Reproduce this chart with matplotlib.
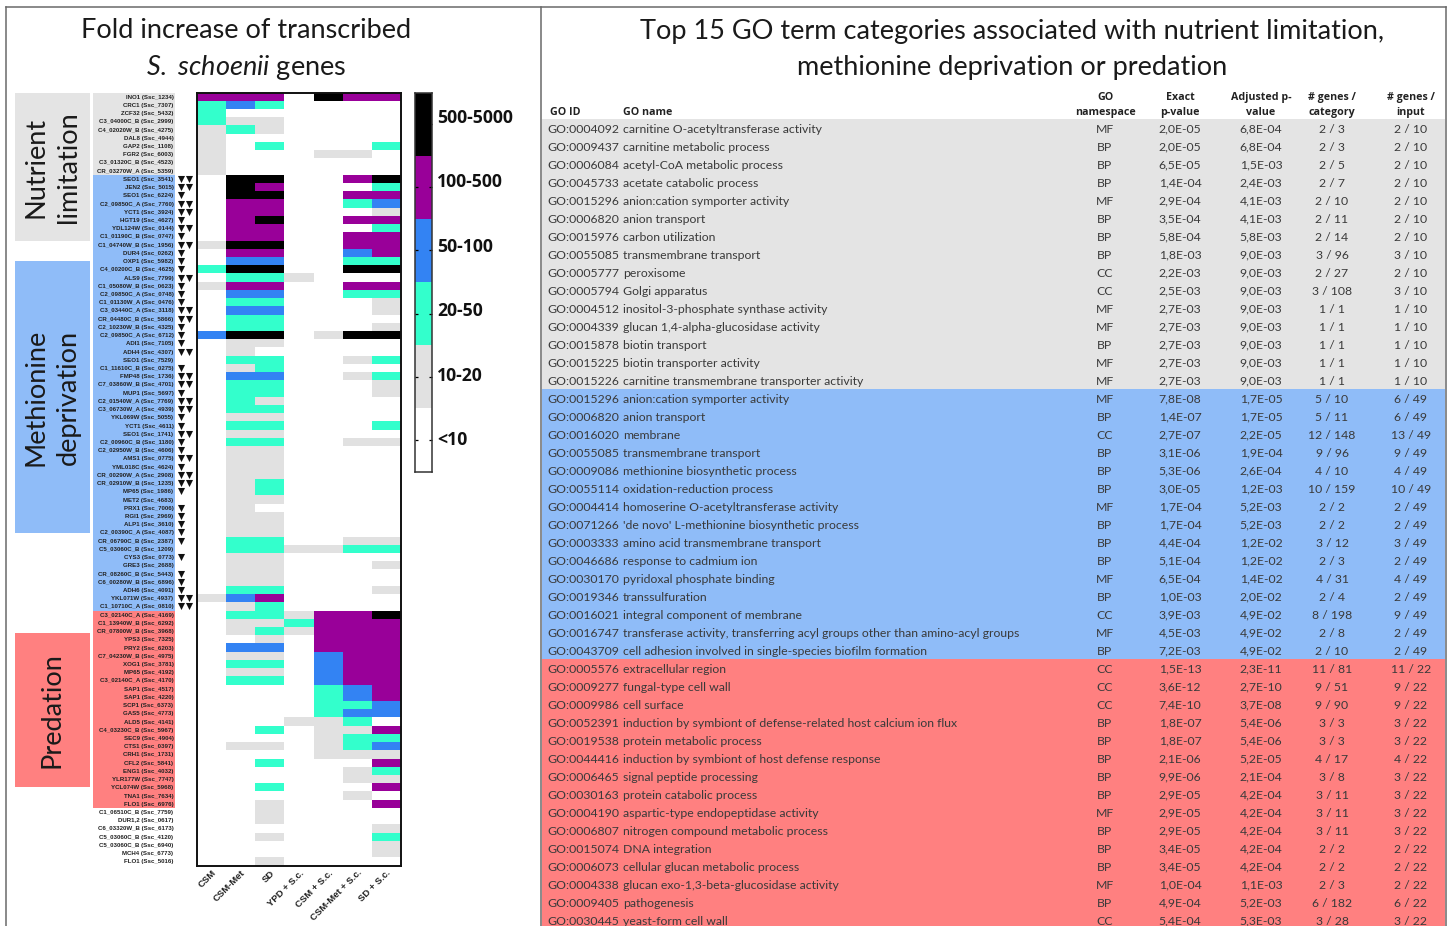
import matplotlib
matplotlib.use("Agg")
import matplotlib.pyplot as plt
import numpy as np
from matplotlib.colors import ListedColormap, BoundaryNorm
from matplotlib.patches import Rectangle
from matplotlib.lines import Line2D
from matplotlib.transforms import ScaledTranslation

plt.rcParams['font.family'] = ['Lato', 'DejaVu Sans']
plt.rcParams['mathtext.fontset'] = 'custom'
plt.rcParams['mathtext.it'] = 'Lato:italic'
plt.rcParams['mathtext.rm'] = 'Lato'

W, H = 1449, 926

conditions = ["CSM", "CSM-Met", "SD", "YPD + S.c.", "CSM + S.c.", "CSM-Met + S.c.", "SD + S.c."]
bin_labels = ["<10", "10-20", "20-50", "50-100", "100-500", "500-5000"]
bin_colors = ["#ffffff", "#e1e1e1", "#33ffcc", "#3383f3", "#990099", "#000000"]

genes_nutrient = ["INO1 (Ssc_1234)", "CRC1 (Ssc_7307)", "ZCF32 (Ssc_5432)", "C3_04000C_B (Ssc_2999)",
    "C4_02020W_B (Ssc_4275)", "DAL8 (Ssc_4944)", "GAP2 (Ssc_1108)", "FGR2 (Ssc_6003)",
    "C3_01320C_B (Ssc_4523)", "CR_03270W_A (Ssc_5359)"]
genes_methionine = ["SEO1 (Ssc_3541)", "JEN2 (Ssc_5015)", "SEO1 (Ssc_6224)", "C2_09850C_A (Ssc_7760)",
    "YCT1 (Ssc_3924)", "HGT19 (Ssc_4627)", "YDL124W (Ssc_0144)", "C1_01190C_B (Ssc_0747)",
    "C1_04740W_B (Ssc_1956)", "DUR4 (Ssc_0262)", "OXP1 (Ssc_5982)", "C4_00200C_B (Ssc_4625)",
    "ALS9 (Ssc_7799)", "C1_05080W_B (Ssc_0623)", "C2_09850C_A (Ssc_0748)", "C1_01130W_A (Ssc_0476)",
    "C3_03440C_A (Ssc_3118)", "CR_04480C_B (Ssc_5866)", "C2_10230W_B (Ssc_4325)", "C2_09850C_A (Ssc_6712)",
    "ADI1 (Ssc_7105)", "ADH4 (Ssc_4307)", "SEO1 (Ssc_7529)", "C1_11610C_B (Ssc_0275)",
    "FMP48 (Ssc_1736)", "C7_03860W_B (Ssc_4701)", "MUP1 (Ssc_5697)", "C2_01540W_A (Ssc_7769)",
    "C3_06730W_A (Ssc_4939)", "YKL069W (Ssc_5055)", "YCT1 (Ssc_4611)", "SEO1 (Ssc_1741)",
    "C2_00960C_B (Ssc_1180)", "C2_02950W_B (Ssc_4606)", "AMS1 (Ssc_0775)", "YML018C (Ssc_4624)",
    "CR_00290W_A (Ssc_2908)", "CR_02910W_B (Ssc_1235)", "MP65 (Ssc_1986)", "MET2 (Ssc_4683)",
    "PRX1 (Ssc_7006)", "RGI1 (Ssc_2969)", "ALP1 (Ssc_3610)", "C2_00390C_A (Ssc_4087)",
    "CR_06790C_B (Ssc_2387)", "C5_03060C_B (Ssc_1209)", "CYS3 (Ssc_0773)", "GRE3 (Ssc_2688)",
    "CR_08260C_B (Ssc_5443)", "C6_00280W_B (Ssc_6896)", "ADH6 (Ssc_4091)", "YKL071W (Ssc_4937)",
    "C1_10710C_A (Ssc_0810)"]
genes_predation = ["C3_02140C_A (Ssc_4169)", "C1_13940W_B (Ssc_6292)", "CR_07800W_B (Ssc_3968)",
    "YPS3 (Ssc_7325)", "PRY2 (Ssc_6203)", "C7_04230W_B (Ssc_4975)", "XOG1 (Ssc_3781)", "MP65 (Ssc_4192)",
    "C3_02140C_A (Ssc_4170)", "SAP1 (Ssc_4517)", "SAP1 (Ssc_4220)", "SCP1 (Ssc_6373)", "GAS5 (Ssc_4773)",
    "ALD5 (Ssc_4141)", "C4_03230C_B (Ssc_5967)", "SEC9 (Ssc_4904)", "CTS1 (Ssc_0397)", "CRH1 (Ssc_1731)",
    "CFL2 (Ssc_5841)", "ENG1 (Ssc_4032)", "YLR177W (Ssc_7747)", "YCL074W (Ssc_5968)", "TNA1 (Ssc_7634)",
    "FLO1 (Ssc_6976)"]
genes_other = ["C1_06510C_B (Ssc_7759)", "DUR1,2 (Ssc_0617)", "C6_03320W_B (Ssc_6173)",
    "C5_03060C_B (Ssc_4120)", "C5_03060C_B (Ssc_6940)", "MCH4 (Ssc_6773)", "FLO1 (Ssc_5016)"]

bins_nutrient = ["4440544", "2320000", "2000000", "2110000", "1210000", "1000000", "1020002", "1000110",
                 "1000000", "1000000"]
bins_methionine = ["0550045", "0540002", "0550044", "0440023", "0440001", "0450044", "0440002", "0440044",
    "1550044", "0440034", "0330022", "2550055", "0221000", "1440044", "0330022", "0220001", "0330001",
    "0220000", "0220001", "3550155", "0110000", "0100000", "0220012", "0120000", "0330012", "0220001",
    "0220001", "0210000", "0220000", "0110000", "0220002", "0110000", "0220011", "0110000", "0110000",
    "0110000", "0110000", "0120000", "0120000", "0110000", "0100000", "0110000", "0110000", "0110000",
    "0220011", "0221122", "0110000", "0110001", "0110000", "0110000", "0220001", "1340000", "0120000"]
bins_predation = ["0221445", "0112444", "0121444", "0010444", "0330444", "0110344", "0220344", "0110344",
    "0220344", "0000234", "0000234", "0000223", "0000233", "0001120", "0020114", "0000122", "0110123",
    "0000111", "0020004", "0000012", "0000011", "0020004", "0000010", "0010004"]
bins_other = ["0010000", "0010000", "0000001", "0010002", "0000001", "0000001", "0010000"]

triangles_methionine = [2, 2, 1, 2, 2, 1, 2, 1, 2, 1, 1, 1, 2, 1, 1, 1, 2, 2, 1, 1, 1, 2, 0, 1, 2, 2, 1, 2, 2,
                        1, 1, 2, 1, 1, 2, 1, 2, 2, 1, 0, 1, 1, 1, 1, 1, 0, 1, 0, 1, 1, 1, 2, 2]

go_id_nutrient = ["GO:0004092", "GO:0009437", "GO:0006084", "GO:0045733", "GO:0015296", "GO:0006820", "GO:0015976",
    "GO:0055085", "GO:0005777", "GO:0005794", "GO:0004512", "GO:0004339", "GO:0015878", "GO:0015225", "GO:0015226"]
go_name_nutrient = ["carnitine O-acetyltransferase activity", "carnitine metabolic process", "acetyl-CoA metabolic process",
    "acetate catabolic process", "anion:cation symporter activity", "anion transport", "carbon utilization",
    "transmembrane transport", "peroxisome", "Golgi apparatus", "inositol-3-phosphate synthase activity",
    "glucan 1,4-alpha-glucosidase activity", "biotin transport", "biotin transporter activity",
    "carnitine transmembrane transporter activity"]
go_ns_nutrient = ["MF", "BP", "BP", "BP", "MF", "BP", "BP", "BP", "CC", "CC", "MF", "MF", "BP", "MF", "MF"]
go_p_nutrient = ["2,0E-05", "2,0E-05", "6,5E-05", "1,4E-04", "2,9E-04", "3,5E-04", "5,8E-04", "1,8E-03", "2,2E-03",
    "2,5E-03", "2,7E-03", "2,7E-03", "2,7E-03", "2,7E-03", "2,7E-03"]
go_adj_nutrient = ["6,8E-04", "6,8E-04", "1,5E-03", "2,4E-03", "4,1E-03", "4,1E-03", "5,8E-03", "9,0E-03", "9,0E-03",
    "9,0E-03", "9,0E-03", "9,0E-03", "9,0E-03", "9,0E-03", "9,0E-03"]
go_cat_nutrient = ["2 / 3", "2 / 3", "2 / 5", "2 / 7", "2 / 10", "2 / 11", "2 / 14", "3 / 96", "2 / 27", "3 / 108",
    "1 / 1", "1 / 1", "1 / 1", "1 / 1", "1 / 1"]
go_in_nutrient = ["2 / 10", "2 / 10", "2 / 10", "2 / 10", "2 / 10", "2 / 10", "2 / 10", "3 / 10", "2 / 10", "3 / 10",
    "1 / 10", "1 / 10", "1 / 10", "1 / 10", "1 / 10"]

go_id_methionine = ["GO:0015296", "GO:0006820", "GO:0016020", "GO:0055085", "GO:0009086", "GO:0055114", "GO:0004414",
    "GO:0071266", "GO:0003333", "GO:0046686", "GO:0030170", "GO:0019346", "GO:0016021", "GO:0016747", "GO:0043709"]
go_name_methionine = ["anion:cation symporter activity", "anion transport", "membrane", "transmembrane transport",
    "methionine biosynthetic process", "oxidation-reduction process", "homoserine O-acetyltransferase activity",
    "'de novo' L-methionine biosynthetic process", "amino acid transmembrane transport", "response to cadmium ion",
    "pyridoxal phosphate binding", "transsulfuration", "integral component of membrane",
    "transferase activity, transferring acyl groups other than amino-acyl groups",
    "cell adhesion involved in single-species biofilm formation"]
go_ns_methionine = ["MF", "BP", "CC", "BP", "BP", "BP", "MF", "BP", "BP", "BP", "MF", "BP", "CC", "MF", "BP"]
go_p_methionine = ["7,8E-08", "1,4E-07", "2,7E-07", "3,1E-06", "5,3E-06", "3,0E-05", "1,7E-04", "1,7E-04", "4,4E-04",
    "5,1E-04", "6,5E-04", "1,0E-03", "3,9E-03", "4,5E-03", "7,2E-03"]
go_adj_methionine = ["1,7E-05", "1,7E-05", "2,2E-05", "1,9E-04", "2,6E-04", "1,2E-03", "5,2E-03", "5,2E-03", "1,2E-02",
    "1,2E-02", "1,4E-02", "2,0E-02", "4,9E-02", "4,9E-02", "4,9E-02"]
go_cat_methionine = ["5 / 10", "5 / 11", "12 / 148", "9 / 96", "4 / 10", "10 / 159", "2 / 2", "2 / 2", "3 / 12", "2 / 3",
    "4 / 31", "2 / 4", "8 / 198", "2 / 8", "2 / 10"]
go_in_methionine = ["6 / 49", "6 / 49", "13 / 49", "9 / 49", "4 / 49", "10 / 49", "2 / 49", "2 / 49", "3 / 49", "2 / 49",
    "4 / 49", "2 / 49", "9 / 49", "2 / 49", "2 / 49"]

go_id_predation = ["GO:0005576", "GO:0009277", "GO:0009986", "GO:0052391", "GO:0019538", "GO:0044416", "GO:0006465",
    "GO:0030163", "GO:0004190", "GO:0006807", "GO:0015074", "GO:0006073", "GO:0004338", "GO:0009405", "GO:0030445"]
go_name_predation = ["extracellular region", "fungal-type cell wall", "cell surface",
    "induction by symbiont of defense-related host calcium ion flux", "protein metabolic process",
    "induction by symbiont of host defense response", "signal peptide processing", "protein catabolic process",
    "aspartic-type endopeptidase activity", "nitrogen compound metabolic process", "DNA integration",
    "cellular glucan metabolic process", "glucan exo-1,3-beta-glucosidase activity", "pathogenesis", "yeast-form cell wall"]
go_ns_predation = ["CC", "CC", "CC", "BP", "BP", "BP", "BP", "BP", "MF", "BP", "BP", "BP", "MF", "BP", "CC"]
go_p_predation = ["1,5E-13", "3,6E-12", "7,4E-10", "1,8E-07", "1,8E-07", "2,1E-06", "9,9E-06", "2,9E-05", "2,9E-05",
    "2,9E-05", "3,4E-05", "3,4E-05", "1,0E-04", "4,9E-04", "5,4E-04"]
go_adj_predation = ["2,3E-11", "2,7E-10", "3,7E-08", "5,4E-06", "5,4E-06", "5,2E-05", "2,1E-04", "4,2E-04", "4,2E-04",
    "4,2E-04", "4,2E-04", "4,2E-04", "1,1E-03", "5,2E-03", "5,3E-03"]
go_cat_predation = ["11 / 81", "9 / 51", "9 / 90", "3 / 3", "3 / 3", "4 / 17", "3 / 8", "3 / 11", "3 / 11", "3 / 11",
    "2 / 2", "2 / 2", "2 / 3", "6 / 182", "3 / 28"]
go_in_predation = ["11 / 22", "9 / 22", "9 / 22", "3 / 22", "3 / 22", "4 / 22", "3 / 22", "3 / 22", "3 / 22", "3 / 22",
    "2 / 22", "2 / 22", "2 / 22", "6 / 22", "3 / 22"]

table_headers = ["GO ID", "GO name", "GO\nnamespace", "Exact\np-value", "Adjusted p-\nvalue", "# genes /\ncategory", "# genes /\ninput"]

GREY, BLUE, RED = "#e4e4e4", "#8fbcf8", "#ff8080"
TXT = "#3a3a3a"
SANS = ['Liberation Sans', 'DejaVu Sans']
BOLD = ['Open Sans', 'DejaVu Sans']


def rect(l, t, r, b):
    return [l / W, 1 - b / H, (r - l) / W, (b - t) / H]


fig = plt.figure(figsize=(W / 100, H / 100), dpi=100, facecolor="white")

# frame lines
for x0, y0, x1, y1 in [(6.5, 7, 1445.5, 7), (6.5, 7, 6.5, 926), (541, 7, 541, 926), (1445.5, 7, 1445.5, 926)]:
    fig.add_artist(Line2D([x0 / W, x1 / W], [1 - y0 / H, 1 - y1 / H], color="#6a6a6a", lw=1.1))

# titles
tkw = dict(ha="center", va="center", fontsize=19.5, color="#1a1a1a")
fig.text(246.5 / W, 1 - 31 / H, "Fold increase of transcribed", **tkw)
fig.text(246.5 / W, 1 - 67 / H, r"$\mathit{S.\ schoenii}$ genes", **tkw)
fig.text(1012 / W, 1 - 32 / H, "Top 15 GO term categories associated with nutrient limitation,", **tkw)
fig.text(1012 / W, 1 - 67 / H, "methionine deprivation or predation", **tkw)

# side blocks
for (t, b, c, s) in [(93, 241, GREY, "Nutrient\nlimitation"), (261, 533, BLUE, "Methionine\ndeprivation"),
                     (633, 787, RED, "Predation")]:
    fig.add_artist(Rectangle((15.5 / W, 1 - b / H), 74 / W, (b - t) / H, transform=fig.transFigure,
                             facecolor=c, edgecolor="none"))
    fig.text(52.5 / W, 1 - (t + b) / 2 / H, s, rotation=90, ha="center", va="center", fontsize=19.5,
             color="#1a1a1a", linespacing=1.35, multialignment="center")

# heat map
genes = genes_nutrient + genes_methionine + genes_predation + genes_other
rows = bins_nutrient + bins_methionine + bins_predation + bins_other
matrix = np.array([[int(ch) for ch in r] for r in rows])
n_rows = len(genes)
cmap = ListedColormap(bin_colors)
norm = BoundaryNorm(np.arange(-0.5, 6.5), 6)

ax = fig.add_axes(rect(197, 92.5, 401, 865.5))
ax.pcolormesh(np.arange(8), np.arange(n_rows + 1), matrix, cmap=cmap, norm=norm)
ax.set_xlim(0, 7)
ax.set_ylim(n_rows, 0)
for s in ax.spines.values():
    s.set_linewidth(1.4)
    s.set_color("#111111")
ax.set_xticks(np.arange(7) + 0.5)
ax.set_xticklabels(conditions, rotation=45, ha="right", va="top", rotation_mode="anchor",
                   family=SANS, fontweight="bold", fontsize=6.8, color="#222222")
ax.tick_params(axis="x", length=0, pad=2)
ax.set_yticks(np.arange(n_rows) + 0.5)
ax.set_yticklabels(genes, family=SANS, fontweight="bold", fontsize=4.4, color="#222222")
ax.tick_params(axis="y", length=0, pad=17)

col_px = 204 / 7
label_l, label_r = (93 - 197) / col_px, (174.5 - 197) / col_px
start = 0
for group, c in [(genes_nutrient, GREY), (genes_methionine, BLUE), (genes_predation, RED)]:
    ax.add_patch(Rectangle((label_l, start), label_r - label_l, len(group), facecolor=c, edgecolor="none",
                           clip_on=False, zorder=0))
    start += len(group)

# down-pointing triangles beside the methionine group
first = len(genes_nutrient)
for i, n in enumerate(triangles_methionine):
    y = first + i + 0.5
    xs = [(180.7 - 197) / col_px, (189.2 - 197) / col_px][:n]
    if xs:
        ax.scatter(xs, [y] * n, marker="v", s=26, color="#111111", linewidths=0, clip_on=False, zorder=3)

# colour key
cax = fig.add_axes(rect(415, 92.5, 431.5, 471.5))
cax.pcolormesh([0, 1], np.arange(7), np.arange(6)[:, None], cmap=cmap, norm=norm)
cax.set_xticks([])
cax.set_ylim(0, 6)
cax.set_yticks(np.arange(6) + 0.5)
cax.set_yticklabels(bin_labels, family=BOLD, fontweight="bold", fontsize=12.7, color="#111111")
cax.tick_params(axis="y", direction="in", length=2.5, width=0.9, left=True, right=True,
                labelleft=False, labelright=True, pad=4)
for tick_i, tick in enumerate(cax.yaxis.get_major_ticks()):
    tick.label2.set_transform(tick.label2.get_transform() +
                              ScaledTranslation(0, (2 + 1.2 * tick_i) / 100, fig.dpi_scale_trans))
for s in cax.spines.values():
    s.set_linewidth(1.1)
    s.set_color("#333333")

# GO table
tab = fig.add_axes(rect(542, 119, 1445, 929))
tab.set_xlim(542, 1445)
tab.set_ylim(45, 0)
tab.axis("off")
col_x = [547, 623, 1105, 1180, 1261, 1332, 1411]
col_ha = ["left", "left", "center", "center", "center", "center", "center"]
groups = [
    (GREY, go_id_nutrient, go_name_nutrient, go_ns_nutrient, go_p_nutrient, go_adj_nutrient, go_cat_nutrient, go_in_nutrient),
    (BLUE, go_id_methionine, go_name_methionine, go_ns_methionine, go_p_methionine, go_adj_methionine, go_cat_methionine, go_in_methionine),
    (RED, go_id_predation, go_name_predation, go_ns_predation, go_p_predation, go_adj_predation, go_cat_predation, go_in_predation),
]
row = 0
for g in groups:
    tab.axhspan(row, row + len(g[1]), color=g[0], lw=0, zorder=0)
    for vals in zip(*g[1:]):
        for x, ha, v in zip(col_x, col_ha, vals):
            tab.text(x, row + 0.56, v, ha=ha, va="center", fontsize=8.8, color=TXT, clip_on=False)
        row += 1

head_x = [550, 623, 1105, 1180, 1261, 1332, 1411]
for x, ha, s in zip(head_x, col_ha, table_headers):
    fig.text(x / W, 1 - 118 / H, s, ha=ha, va="bottom", family=BOLD, fontsize=7.7, fontweight="bold",
             color="#222222", linespacing=1.45, multialignment="center")

fig.savefig("out.png", dpi=100, facecolor="white")
